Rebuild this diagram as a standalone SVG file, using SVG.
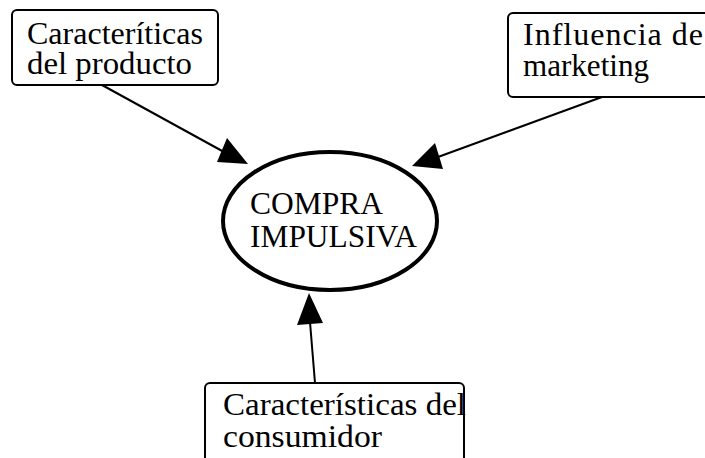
<svg xmlns="http://www.w3.org/2000/svg" width="705" height="458" viewBox="0 0 705 458">
  <style>
    .box { fill: #ffffff; stroke: #000000; stroke-width: 2; }
    .oval { fill: #ffffff; stroke: #000000; stroke-width: 4; }
    .lbl { font-family: "Liberation Serif", "Times New Roman", serif; font-size: 32px; fill: #000000; }
    .line { stroke: #000000; stroke-width: 2; fill: none; }
    .head { fill: #000000; stroke: none; }
  </style>
  <rect x="0" y="0" width="705" height="458" fill="#ffffff"/>
  <g id="connectors">
    <line class="line" x1="102" y1="85" x2="224" y2="152"/>
    <polygon class="head" points="248,164 217,162 227,138"/>
    <line class="line" x1="602" y1="97" x2="438" y2="157"/>
    <polygon class="head" points="412,166 435,143 443,169"/>
    <line class="line" x1="315" y1="383" x2="310" y2="322"/>
    <polygon class="head" points="309,293 297,325 323,323"/>
  </g>
  <g id="node-producto">
    <rect class="box" x="12" y="10" width="206" height="75" rx="5" ry="5"/>
    <text class="lbl"><tspan x="27" y="44" textLength="176" lengthAdjust="spacingAndGlyphs">Caracteríticas</tspan><tspan x="27" y="74" textLength="165" lengthAdjust="spacingAndGlyphs">del producto</tspan></text>
  </g>
  <g id="node-marketing">
    <rect class="box" x="508" y="13" width="220" height="84" rx="5" ry="5"/>
    <text class="lbl"><tspan x="523" y="45" textLength="180" lengthAdjust="spacing">Influencia de</tspan><tspan x="523" y="76" textLength="126" lengthAdjust="spacingAndGlyphs">marketing</tspan></text>
  </g>
  <g id="node-compra">
    <ellipse class="oval" cx="330" cy="221" rx="107" ry="69"/>
    <text class="lbl"><tspan x="250" y="214" textLength="133" lengthAdjust="spacingAndGlyphs">COMPRA</tspan><tspan x="250" y="247" textLength="167" lengthAdjust="spacingAndGlyphs">IMPULSIVA</tspan></text>
  </g>
  <g id="node-consumidor">
    <rect class="box" x="205" y="383" width="259" height="90" rx="5" ry="5"/>
    <text class="lbl"><tspan x="223" y="415" textLength="243" lengthAdjust="spacingAndGlyphs">Características del</tspan><tspan x="223" y="447" textLength="159" lengthAdjust="spacingAndGlyphs">consumidor</tspan></text>
  </g>
</svg>
